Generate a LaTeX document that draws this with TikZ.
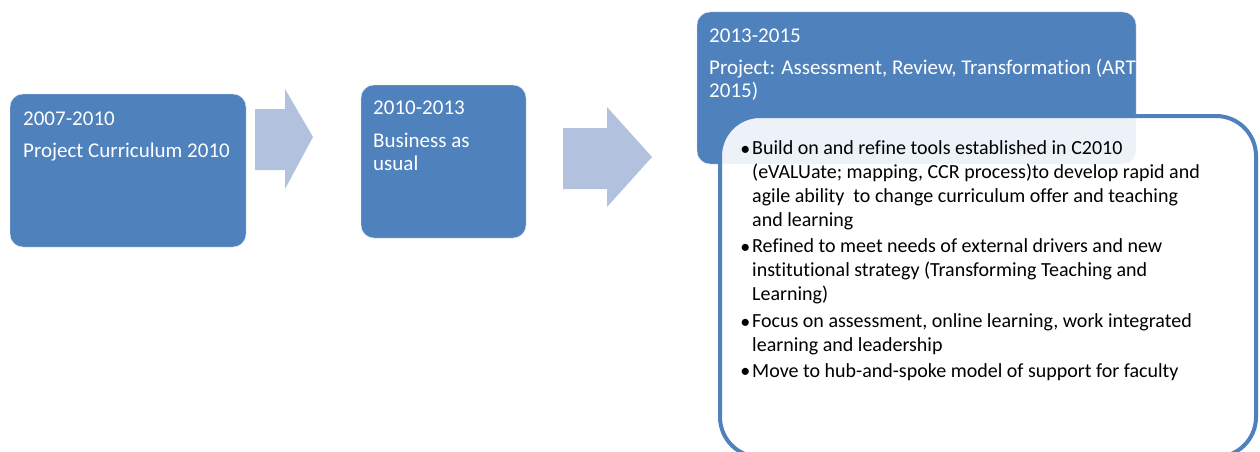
\documentclass[tikz,border=0pt]{standalone}
\usepackage{fontspec}
\setmainfont{Carlito}[Ligatures=NoCommon]
\usetikzlibrary{positioning}
\definecolor{phaseblue}{RGB}{79,129,189}
\definecolor{arrowblue}{RGB}{178,194,222}
\begin{document}
\begin{tikzpicture}[x=1pt,y=-1pt]
\tikzstyle{phase} = [rectangle, rounded corners=13pt, fill=phaseblue, draw=white!75!phaseblue, anchor=north west, inner sep=0pt, outer sep=0pt]
\tikzstyle{detail} = [rectangle, rounded corners=40pt, fill=white, fill opacity=0.9, draw=phaseblue, line width=4pt, anchor=north west, inner sep=0pt, outer sep=0pt]
\tikzstyle{phasetext} = [anchor=base west, inner sep=0pt, align=left, text=white, font=\fontsize{21}{23}\selectfont]
\tikzstyle{itemtext} = [anchor=base west, inner sep=0pt, align=left, text=black, font=\fontsize{20}{23.7}\selectfont]
\tikzstyle{bulletmark} = [anchor=base east, inner sep=0pt, xshift=-1.5pt, font=\fontsize{20}{23.7}\selectfont]
\tikzstyle{fatarrow} = [fill=arrowblue]

\useasboundingbox (0,0) rectangle (1260,452);

%boxes
\node (PA) [phase, minimum width=236, minimum height=153] at (10,94) {};
\node (PB) [phase, minimum width=165, minimum height=153] at (361,85) {};
\node (PC) [phase, minimum width=439, minimum height=152] at (697,12) {};
\node (PD) [detail, minimum width=536, minimum height=341] at (720,116) {};

%box texts (placed at baseline of last line)
\node (PAT) [phasetext] at (23,157) {2007-2010\\[9pt]Project Curriculum 2010};
\node (PBT) [phasetext] at (373,170) {2010-2013\\[10pt]Business as\\usual};
\node (PCT) [phasetext] at (709,97) {2013-2015\\[9pt]Project: Assessment, Review, Transformation (ART\\2015)};

%bullets
\node (DA) [itemtext] at (752,226) {Build on and refine tools established in C2010\\(eVALUate; mapping, CCR process)to develop rapid and\\agile ability\ \ to change curriculum offer and teaching\\and learning};
\node (DB) [itemtext] at (752,300) {Refined to meet needs of external drivers and new\\institutional strategy (Transforming Teaching and\\Learning)};
\node (DC) [itemtext] at (752,351) {Focus on assessment, online learning, work integrated\\learning and leadership};
\node (DD) [itemtext] at (752,377) {Move to hub-and-spoke model of support for faculty};
\node (DAB) [bulletmark] at (752,155) {\textbullet};
\node (DBB) [bulletmark] at (752,253) {\textbullet};
\node (DCB) [bulletmark] at (752,328) {\textbullet};
\node (DDB) [bulletmark] at (DD.base west) {\textbullet};

%arrows
\fill [fatarrow] (255,109) -- (285,109) -- (285,89) -- (313,137) -- (285,189) -- (285,170) -- (255,170) -- cycle;
\fill [fatarrow] (563,128) -- (607,128) -- (607,107) -- (652,157) -- (607,207) -- (607,189) -- (563,189) -- cycle;
\end{tikzpicture}
\end{document}
